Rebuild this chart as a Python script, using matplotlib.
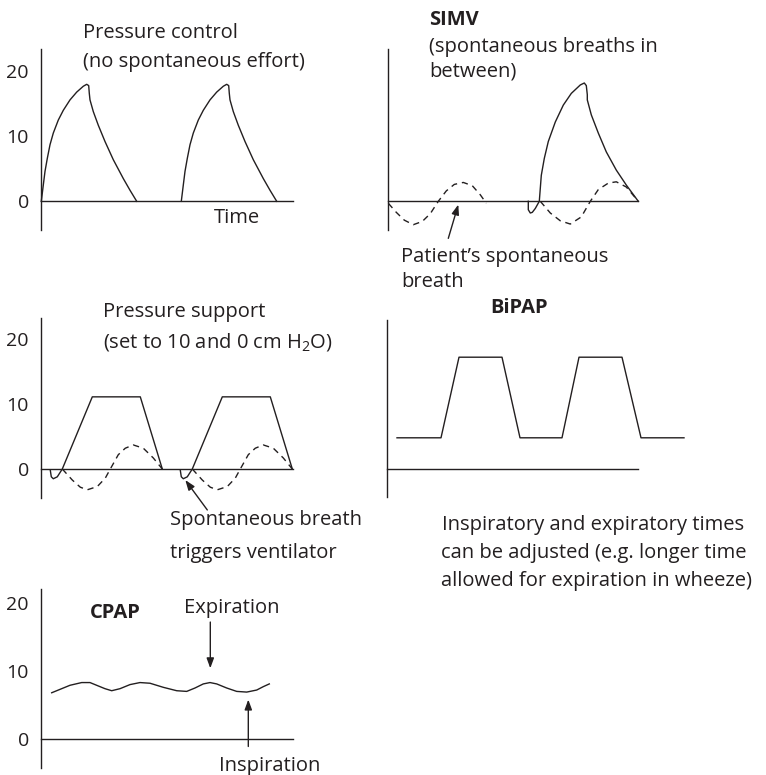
import matplotlib.pyplot as plt

plt.rcParams["font.family"] = ["Open Sans", "DejaVu Sans"]
plt.rcParams["mathtext.fontset"] = "custom"
plt.rcParams["mathtext.rm"] = "Open Sans"
plt.rcParams["mathtext.it"] = "Open Sans:italic"
plt.rcParams["mathtext.bf"] = "Open Sans:bold"

W, H = 766, 775
INK = "#231f20"
LW = 1.0
FS = 14.5
PX_T = 10.0  # pixels per time unit
XMAX = 31.0

# ---- data: time in arbitrary units, pressure in cm H2O ----
# pressure control: one mandatory breath, repeated
pc_t = [0.0, 0.2, 0.37, 0.6, 0.87, 1.2, 1.7, 2.2, 2.87, 3.54, 4.2, 4.54, 4.74,
        4.8, 4.87, 5.2, 5.7, 6.37, 7.2, 8.2, 8.87, 9.54]
pc_p = [0.0, 2.5, 4.6, 6.6, 8.7, 10.5, 12.5, 14.0, 15.6, 16.8, 17.7, 18.0, 17.8,
        16.6, 15.6, 13.8, 11.7, 9.2, 6.4, 3.5, 1.7, 0.0]
pc_starts = [0.0, 14.0]

# SIMV: spontaneous (dashed) breaths and one triggered mandatory breath
simv_sp1_t = [0.0, 0.8, 1.6, 2.5, 3.4, 4.2, 5.0, 5.8, 6.6, 7.5, 8.4, 9.2, 9.8]
simv_sp1_p = [-0.3, -1.7, -2.9, -3.6, -3.1, -1.9, 0.0, 1.6, 2.6, 2.9, 2.4, 1.0, -0.3]
simv_sp2_t = [15.2, 16.2, 17.2, 18.2, 19.3, 20.2, 21.0, 22.0, 22.8, 23.8, 25.0]
simv_sp2_p = [0.0, -1.8, -3.0, -3.5, -2.4, 0.0, 1.8, 2.8, 3.0, 2.2, 0.0]
simv_mv_t = [14.0, 14.0, 14.2, 14.4, 14.7, 15.1, 15.2, 15.3, 15.6, 16.0, 16.7,
             17.5, 18.3, 19.2, 19.6, 19.8, 19.9, 19.9, 20.3, 21.0, 21.8, 22.8,
             23.8, 25.0]
simv_mv_p = [0.0, -1.3, -1.8, -1.7, -1.1, 0.0, 2.0, 4.0, 6.6, 9.2, 12.2,
             14.8, 16.6, 17.9, 18.2, 17.8, 16.4, 15.6, 13.3, 10.5, 7.6, 4.8,
             2.5, 0.0]

# pressure support: trigger hook + supported breath, and patient effort
ps_sup_t = [0.9, 1.0, 1.2, 1.6, 2.1, 5.1, 9.9, 12.1]
ps_sup_p = [-0.2, -1.2, -1.5, -1.2, 0.0, 11.1, 11.1, 0.0]
ps_eff_t = [2.1, 3.1, 3.9, 4.6, 5.6, 6.4, 6.9, 7.7, 8.4, 9.2, 10.2, 11.2, 12.1]
ps_eff_p = [0.0, -1.7, -2.8, -3.2, -2.7, -1.4, 0.0, 2.2, 3.2, 3.7, 3.2, 1.7, 0.0]
ps_starts = [0.0, 13.0]

# BiPAP
bipap_t = [1.0, 5.4, 7.2, 11.5, 13.3, 17.5, 19.2, 23.5, 25.4, 29.7]
bipap_p = [4.8, 4.8, 17.2, 17.2, 4.8, 4.8, 17.2, 17.2, 4.8, 4.8]

# CPAP
cpap_t = [1.04, 1.87, 2.87, 4.04, 4.87, 5.7, 6.37, 7.04, 7.87, 8.87, 9.87,
          10.87, 12.2, 13.54, 14.54, 15.37, 16.2, 16.87, 17.54, 18.54, 19.54,
          20.54, 21.54, 22.2, 22.8]
cpap_p = [6.8, 7.3, 7.9, 8.3, 8.3, 7.8, 7.4, 7.1, 7.4, 8.0, 8.3,
          8.2, 7.6, 7.1, 7.0, 7.5, 8.1, 8.3, 8.1, 7.5, 7.0,
          6.9, 7.2, 7.7, 8.1]

yticks = [0, 10, 20]

fig = plt.figure(figsize=(W / 100, H / 100), dpi=100)


def panel(x0, y0, ppp, ybot, ytop, base_len, ticks=True):
    left = x0
    right = x0 + XMAX * PX_T
    top = y0 - ytop * ppp
    bottom = y0 - ybot * ppp
    ax = fig.add_axes([left / W, 1 - bottom / H, (right - left) / W, (bottom - top) / H])
    ax.set_xlim(0, XMAX)
    ax.set_ylim(ybot, ytop)
    ax.patch.set_visible(False)
    for s in ["top", "right", "bottom"]:
        ax.spines[s].set_visible(False)
    ax.spines["left"].set_linewidth(LW)
    ax.spines["left"].set_color(INK)
    ax.set_xticks([])
    if ticks:
        ax.set_yticks(yticks)
        ax.tick_params(axis="y", length=0, pad=9, labelsize=14, labelcolor=INK)
    else:
        ax.set_yticks([])
    ax.plot([0, base_len], [0, 0], color=INK, lw=LW, clip_on=False)
    return ax


def solid(ax, t, p, dt=0.0):
    ax.plot([v + dt for v in t], p, color=INK, lw=LW, clip_on=False,
            solid_joinstyle="round")


def dashed(ax, t, p, dt=0.0):
    ax.plot([v + dt for v in t], p, color=INK, lw=LW, clip_on=False,
            dashes=(4.5, 3.5))


def arrow(ax, tail, head):
    ax.annotate("", xy=head, xytext=tail, annotation_clip=False,
                arrowprops=dict(arrowstyle="-|>,head_length=0.6,head_width=0.22",
                                lw=LW, color=INK, shrinkA=0, shrinkB=0))


def label(x, y, s, ha="left", bold=False):
    fig.text(x / W, 1 - y / H, s, ha=ha, va="center", fontsize=FS, color=INK,
             fontweight="bold" if bold else "normal")


# ---- pressure control ----
ax1 = panel(41.3, 201.3, 6.5, -4.4, 23.5, 25.2)
for st in pc_starts:
    solid(ax1, pc_t, pc_p, st)
label(83, 33, "Pressure control")
label(83, 62, "(no spontaneous effort)")
label(237, 218, "Time", ha="center")

# ---- SIMV ----
ax2 = panel(388.3, 201.3, 6.5, -4.4, 23.5, 25.0, ticks=False)
dashed(ax2, simv_sp1_t, simv_sp1_p)
dashed(ax2, simv_sp2_t, simv_sp2_p)
solid(ax2, simv_mv_t, simv_mv_p)
arrow(ax2, (6.0, -5.7), (7.0, -0.5))
label(429, 20, "SIMV", bold=True)
label(429, 47, "(spontaneous breaths in")
label(429, 71, "between)")
label(401, 257, "Patient\u2019s spontaneous")
label(401, 282, "breath")

# ---- pressure support ----
ax3 = panel(41.3, 469.0, 6.5, -4.5, 23.2, 25.2)
for st in ps_starts:
    solid(ax3, ps_sup_t, ps_sup_p, st)
    dashed(ax3, ps_eff_t, ps_eff_p, st)
arrow(ax3, (16.6, -6.3), (14.4, -1.7))
label(103, 312, "Pressure support")
label(103, 342, "(set to 10 and 0 cm H$_2$O)")
label(170, 520, "Spontaneous breath")
label(170, 553, "triggers ventilator")

# ---- BiPAP ----
ax4 = panel(387.0, 469.0, 6.5, -4.3, 22.9, 25.1, ticks=False)
solid(ax4, bipap_t, bipap_p)
label(490, 308, "BiPAP", bold=True)
label(442, 525, "Inspiratory and expiratory times")
label(441, 553, "can be adjusted (e.g. longer time")
label(441, 581, "allowed for expiration in wheeze)")

# ---- CPAP ----
ax5 = panel(41.3, 739.0, 6.8, -4.3, 22.0, 25.2)
solid(ax5, cpap_t, cpap_p)
arrow(ax5, (16.9, 17.2), (16.9, 10.4))
arrow(ax5, (20.7, -1.1), (20.7, 5.8))
label(115, 613, "CPAP", ha="center", bold=True)
label(232, 608, "Expiration", ha="center")
label(270, 766, "Inspiration", ha="center")

fig.savefig("out.png", dpi=100, facecolor="white")
